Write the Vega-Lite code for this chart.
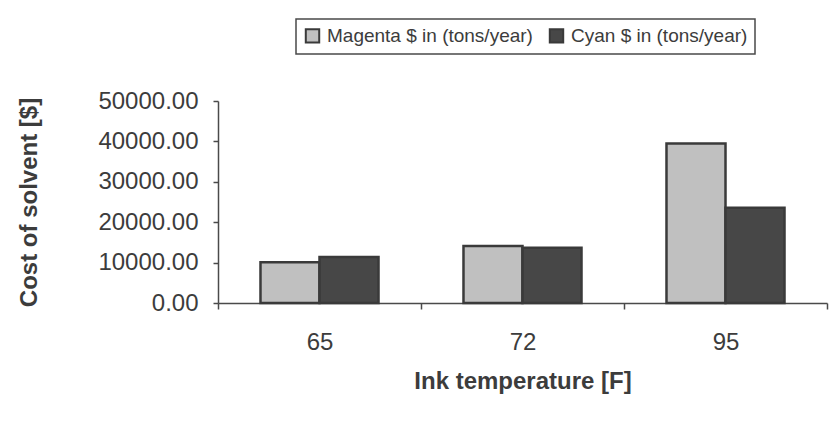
{
  "$schema": "https://vega.github.io/schema/vega-lite/v6.json",
  "width": 609,
  "height": 202,
  "autosize": {"type": "none"},
  "padding": {"left": 218, "top": 101, "right": 13, "bottom": 128},
  "background": "white",
  "data": {
    "values": [
      {"temp": "65", "series": "Magenta $ in (tons/year)", "cost": 10100},
      {"temp": "65", "series": "Cyan $ in (tons/year)", "cost": 11400},
      {"temp": "72", "series": "Magenta $ in (tons/year)", "cost": 14100},
      {"temp": "72", "series": "Cyan $ in (tons/year)", "cost": 13700},
      {"temp": "95", "series": "Magenta $ in (tons/year)", "cost": 39500},
      {"temp": "95", "series": "Cyan $ in (tons/year)", "cost": 23600}
    ]
  },
  "mark": {"type": "bar", "strokeWidth": 2.5, "stroke": "#3a3a3a"},
  "encoding": {
    "x": {
      "field": "temp",
      "type": "nominal",
      "sort": ["65", "72", "95"],
      "scale": {"paddingInner": 0, "paddingOuter": 0},
      "axis": {
        "title": "Ink temperature [F]",
        "labelAngle": 0,
        "tickBand": "extent",
        "tickSize": 6,
        "labelPadding": 21,
        "labelFontSize": 24,
        "titleFontSize": 24,
        "titlePadding": 15
      }
    },
    "xOffset": {
      "field": "series",
      "type": "nominal",
      "sort": ["Magenta $ in (tons/year)", "Cyan $ in (tons/year)"],
      "scale": {"paddingInner": 0, "paddingOuter": 0.72}
    },
    "y": {
      "field": "cost",
      "type": "quantitative",
      "scale": {"domain": [0, 50000], "nice": false},
      "axis": {
        "title": "Cost of solvent [$]",
        "values": [0, 10000, 20000, 30000, 40000, 50000],
        "format": ".2f",
        "grid": false,
        "tickSize": 5,
        "labelPadding": 15,
        "labelFontSize": 24,
        "titleFontSize": 24,
        "titlePadding": 56
      }
    },
    "fill": {
      "field": "series",
      "type": "nominal",
      "sort": ["Magenta $ in (tons/year)", "Cyan $ in (tons/year)"],
      "scale": {"range": ["#c0c0c0", "#474747"]},
      "legend": {"title": null, "symbolStrokeColor": "#3a3a3a"}
    }
  },
  "config": {
    "font": "Liberation Sans",
    "view": {"stroke": null},
    "axis": {
      "labelFont": "Liberation Sans",
      "titleFont": "Liberation Sans",
      "labelColor": "#3c3c3c",
      "titleColor": "#3c3c3c",
      "titleFontWeight": "bold",
      "domainColor": "#4a4a4a",
      "tickColor": "#4a4a4a",
      "domainWidth": 1.5,
      "tickWidth": 1.5
    },
    "legend": {
      "orient": "none",
      "legendX": 78,
      "legendY": -82,
      "direction": "horizontal",
      "strokeColor": "#4a4a4a",
      "strokeWidth": 1.5,
      "padding": 7,
      "symbolType": "square",
      "symbolSize": 180,
      "symbolStrokeWidth": 2,
      "labelFont": "Liberation Sans",
      "labelFontSize": 19,
      "labelColor": "#3c3c3c",
      "labelOffset": 5,
      "columnPadding": 12,
      "labelLimit": 400
    }
  }
}
